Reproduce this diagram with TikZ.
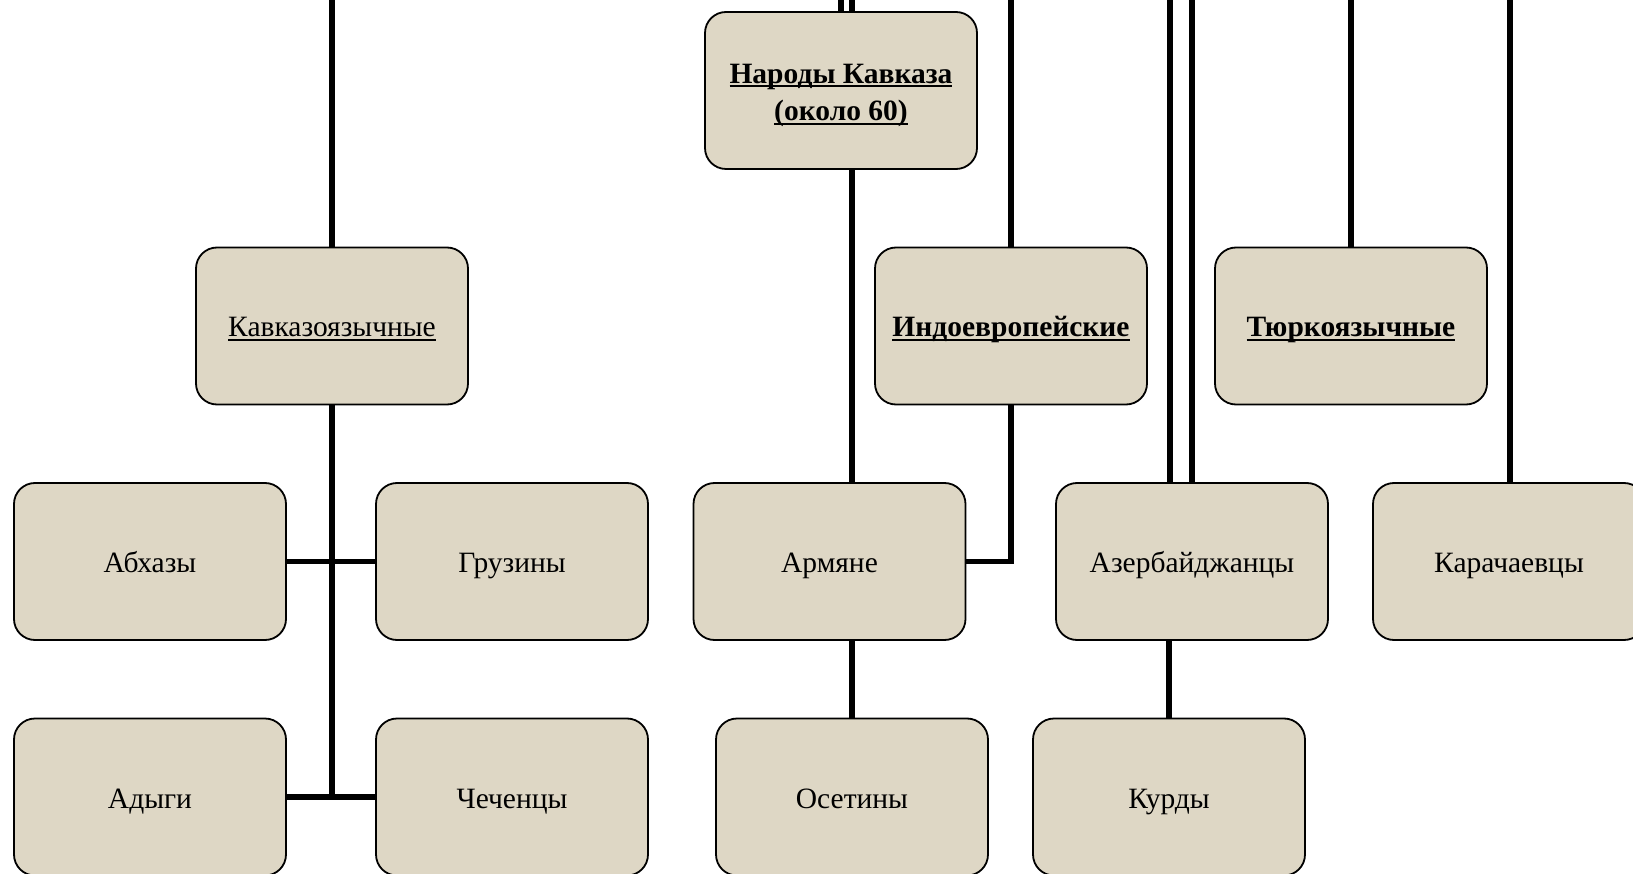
\documentclass[tikz,border=0pt]{standalone}
\usepackage{fontspec}
\setmainfont{Liberation Serif}
\newsavebox\ulbox
\newcommand\myul[1]{\sbox\ulbox{#1}\rlap{\rule[-0.14em]{\wd\ulbox}{0.07em}}\usebox\ulbox}
\definecolor{boxfill}{RGB}{222,215,197}
\tikzset{
  pbox/.style={rectangle, draw=black, line width=1.8pt, fill=boxfill,
    rounded corners=21pt, minimum width=272pt, minimum height=157pt,
    inner sep=4pt, align=center,
    font=\fontsize{29.5}{37.5}\selectfont},
  onel/.style={text height=26pt, text depth=4pt},
  conn/.style={draw=black, line width=5.5pt}
}
\begin{document}
\begin{tikzpicture}[x=1pt,y=-1pt]
\useasboundingbox (0,0) rectangle (1633,874);
\coordinate (t1) at (332,0);
\coordinate (t2) at (841,0);
\coordinate (t3) at (852,0);
\coordinate (t4) at (1011,0);
\coordinate (t5) at (1170,0);
\coordinate (t6) at (1192,0);
\coordinate (t7) at (1351,0);
\coordinate (t8) at (1510,0);
\coordinate (kb) at (332,797);

\node[pbox] (narody) at (841,90.5) {\rule{0pt}{29pt}\textbf{\myul{Народы Кавказа}}\\\textbf{\myul{(около 60)}}};
\node[pbox,onel] (kavk) at (332,326) {\myul{Кавказоязычные}};
\node[pbox,onel] (indo) at (1011,326) {\textbf{\myul{Индоевропейские}}};
\node[pbox,onel] (turk) at (1351,326) {\textbf{\myul{Тюркоязычные}}};
\node[pbox,onel] (abkh) at (150,561.5) {Абхазы};
\node[pbox,onel] (gruz) at (512,561.5) {Грузины};
\node[pbox,onel] (arm) at (829.5,561.5) {Армяне};
\node[pbox,onel] (azer) at (1192,561.5) {Азербайджанцы};
\node[pbox,onel] (karach) at (1509,561.5) {Карачаевцы};
\node[pbox,onel] (adyg) at (150,797) {Адыги};
\node[pbox,onel] (chech) at (512,797) {Чеченцы};
\node[pbox,onel] (oset) at (852,797) {Осетины};
\node[pbox,onel] (kurd) at (1169,797) {Курды};

\draw[conn] (t1) -- (kavk.north);
\draw[conn] (kavk.south) -- (kb);
\draw[conn] (abkh.east) -- (gruz.west);
\draw[conn] (adyg.east) -- (chech.west);
\draw[conn] (t2) -- (t2 |- narody.north);
\draw[conn] (t3) -- (t3 |- narody.north);
\draw[conn] (t3 |- narody.south) -- (t3 |- arm.north);
\draw[conn] (arm.south -| oset.north) -- (oset.north);
\draw[conn] (t4) -- (indo.north);
\draw[conn] (indo.south) |- (arm.east);
\draw[conn] (t5) -- (t5 |- azer.north);
\draw[conn] (t6) -- (azer.north);
\draw[conn] (azer.south -| kurd.north) -- (kurd.north);
\draw[conn] (t7) -- (turk.north);
\draw[conn] (t8) -- (t8 |- karach.north);
\end{tikzpicture}
\end{document}
